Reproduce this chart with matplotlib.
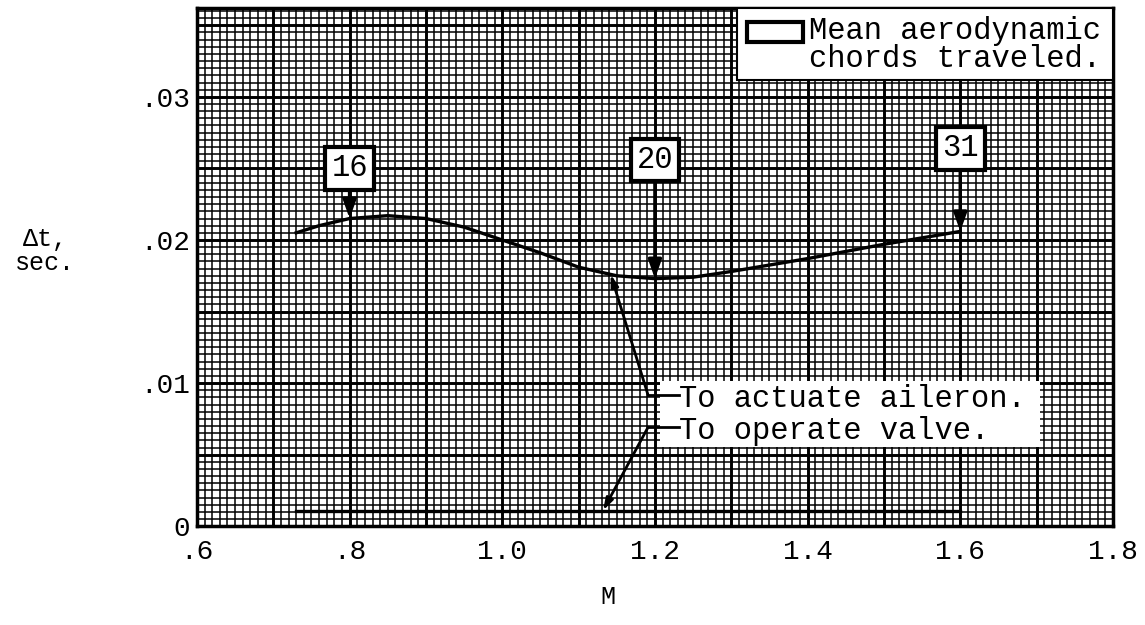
import numpy as np
import matplotlib
matplotlib.use("Agg")
import matplotlib.pyplot as plt
from matplotlib.patches import Rectangle

plt.rcParams['font.family'] = ['Liberation Mono', 'DejaVu Sans Mono']

# time to actuate aileron (upper curve)
mach_aileron = [0.73, 0.76, 0.80, 0.85, 0.90, 0.95, 1.00, 1.05, 1.10, 1.15,
                1.20, 1.25, 1.30, 1.40, 1.50, 1.60]
dt_aileron = [0.0205, 0.0210, 0.0215, 0.0217, 0.0215, 0.0209, 0.0200, 0.0191,
              0.0181, 0.0175, 0.0173, 0.0174, 0.0178, 0.0187, 0.0197, 0.0206]

# time to operate valve (line along the bottom)
mach_valve = [0.73, 1.00, 1.30, 1.60]
dt_valve = [0.0011, 0.0011, 0.0011, 0.0011]

# mean aerodynamic chords traveled, marked at these Mach numbers
chord_mach = [0.80, 1.20, 1.60]
chord_labels = ['16', '20', '31']
chord_box_y = [0.0250, 0.0256, 0.0264]

xticks = [0.6, 0.8, 1.0, 1.2, 1.4, 1.6, 1.8]
xticklabels = ['.6', '.8', '1.0', '1.2', '1.4', '1.6', '1.8']
yticks = [0.0, 0.01, 0.02, 0.03]
yticklabels = ['0', '.01', '.02', '.03']

fig = plt.figure(figsize=(11.45, 6.25), dpi=100)
ax = fig.add_axes([0.172, 0.158, 0.800, 0.829])
xmin, xmax = 0.6, 1.8
ymin, ymax = 0.0, 0.0362
ax.set_xlim(xmin, xmax)
ax.set_ylim(ymin, ymax)

# graph paper
for xv in np.arange(0.6, 1.8001, 0.01):
    major = abs(xv * 10 - round(xv * 10)) < 1e-6
    ax.axvline(xv, color='black', lw=2.1 if major else 1.1, zorder=0)
for yv in np.arange(0.0, ymax, 0.0005):
    major = abs(yv / 0.005 - round(yv / 0.005)) < 1e-6
    ax.axhline(yv, color='black', lw=2.1 if major else 1.1, zorder=0)

for s in ax.spines.values():
    s.set_linewidth(2.5)

ax.set_xticks(xticks)
ax.set_xticklabels(xticklabels, fontsize=20)
ax.set_yticks(yticks)
ax.set_yticklabels(yticklabels, fontsize=20)
ax.tick_params(axis='x', length=0, pad=9)
ax.tick_params(axis='y', length=0, pad=5)

# curves
ax.plot(mach_aileron, dt_aileron, color='black', lw=2.4, zorder=3)
ax.plot(mach_valve, dt_valve, color='black', lw=2.4, zorder=3)

# chord boxes with arrows down to the curve
for m, lab, yb in zip(chord_mach, chord_labels, chord_box_y):
    ax.annotate(lab, xy=(m, np.interp(m, mach_aileron, dt_aileron)),
                xytext=(m, yb), ha='center', va='center', fontsize=22,
                bbox=dict(boxstyle='square,pad=0.2', fc='white', ec='black', lw=3),
                arrowprops=dict(arrowstyle='-|>,head_length=0.5,head_width=0.18',
                                color='black', lw=2.5, shrinkA=0, shrinkB=0),
                zorder=5)

# key box in upper right
ax.add_patch(Rectangle((0.59, 0.862), 0.41, 0.138, transform=ax.transAxes,
                       fc='white', ec='black', lw=1.5, zorder=4))
ax.add_patch(Rectangle((0.60, 0.935), 0.062, 0.039, transform=ax.transAxes,
                       fc='white', ec='black', lw=3, zorder=5))
ax.text(0.668, 0.929, 'Mean aerodynamic\nchords traveled.', transform=ax.transAxes,
        ha='left', va='center', fontsize=22, linespacing=0.9, zorder=6)

# curve labels box
ax.add_patch(Rectangle((0.505, 0.152), 0.415, 0.128, transform=ax.transAxes,
                       fc='white', ec='none', zorder=4))
ax.text(0.526, 0.245, 'To actuate aileron.', transform=ax.transAxes,
        ha='left', va='center', fontsize=22, zorder=6)
ax.text(0.526, 0.184, 'To operate valve.', transform=ax.transAxes,
        ha='left', va='center', fontsize=22, zorder=6)

# leader lines
bend_x = 1.191
lead_end_x = 1.232
ya, yv = 0.00916, 0.00692
ax.plot([bend_x, lead_end_x], [ya, ya], color='black', lw=2, zorder=6)
ax.plot([bend_x, lead_end_x], [yv, yv], color='black', lw=2, zorder=6)
ax.annotate('', xy=(1.142, np.interp(1.142, mach_aileron, dt_aileron)),
            xytext=(bend_x, ya),
            arrowprops=dict(arrowstyle='-|>,head_length=0.7,head_width=0.22',
                            color='black', lw=2, shrinkA=0, shrinkB=0), zorder=6)
ax.annotate('', xy=(1.132, np.interp(1.132, mach_valve, dt_valve)),
            xytext=(bend_x, yv),
            arrowprops=dict(arrowstyle='-|>,head_length=0.7,head_width=0.22',
                            color='black', lw=2, shrinkA=0, shrinkB=0), zorder=6)

# axis titles
fig.text(45 / 1145, 1 - 251 / 625, '\u0394t,\nsec.', ha='center', va='center',
         fontsize=18, linespacing=1.0)
fig.text(608 / 1145, 1 - 597 / 625, 'M', ha='center', va='center', fontsize=18)

fig.savefig('out.png', dpi=100)
